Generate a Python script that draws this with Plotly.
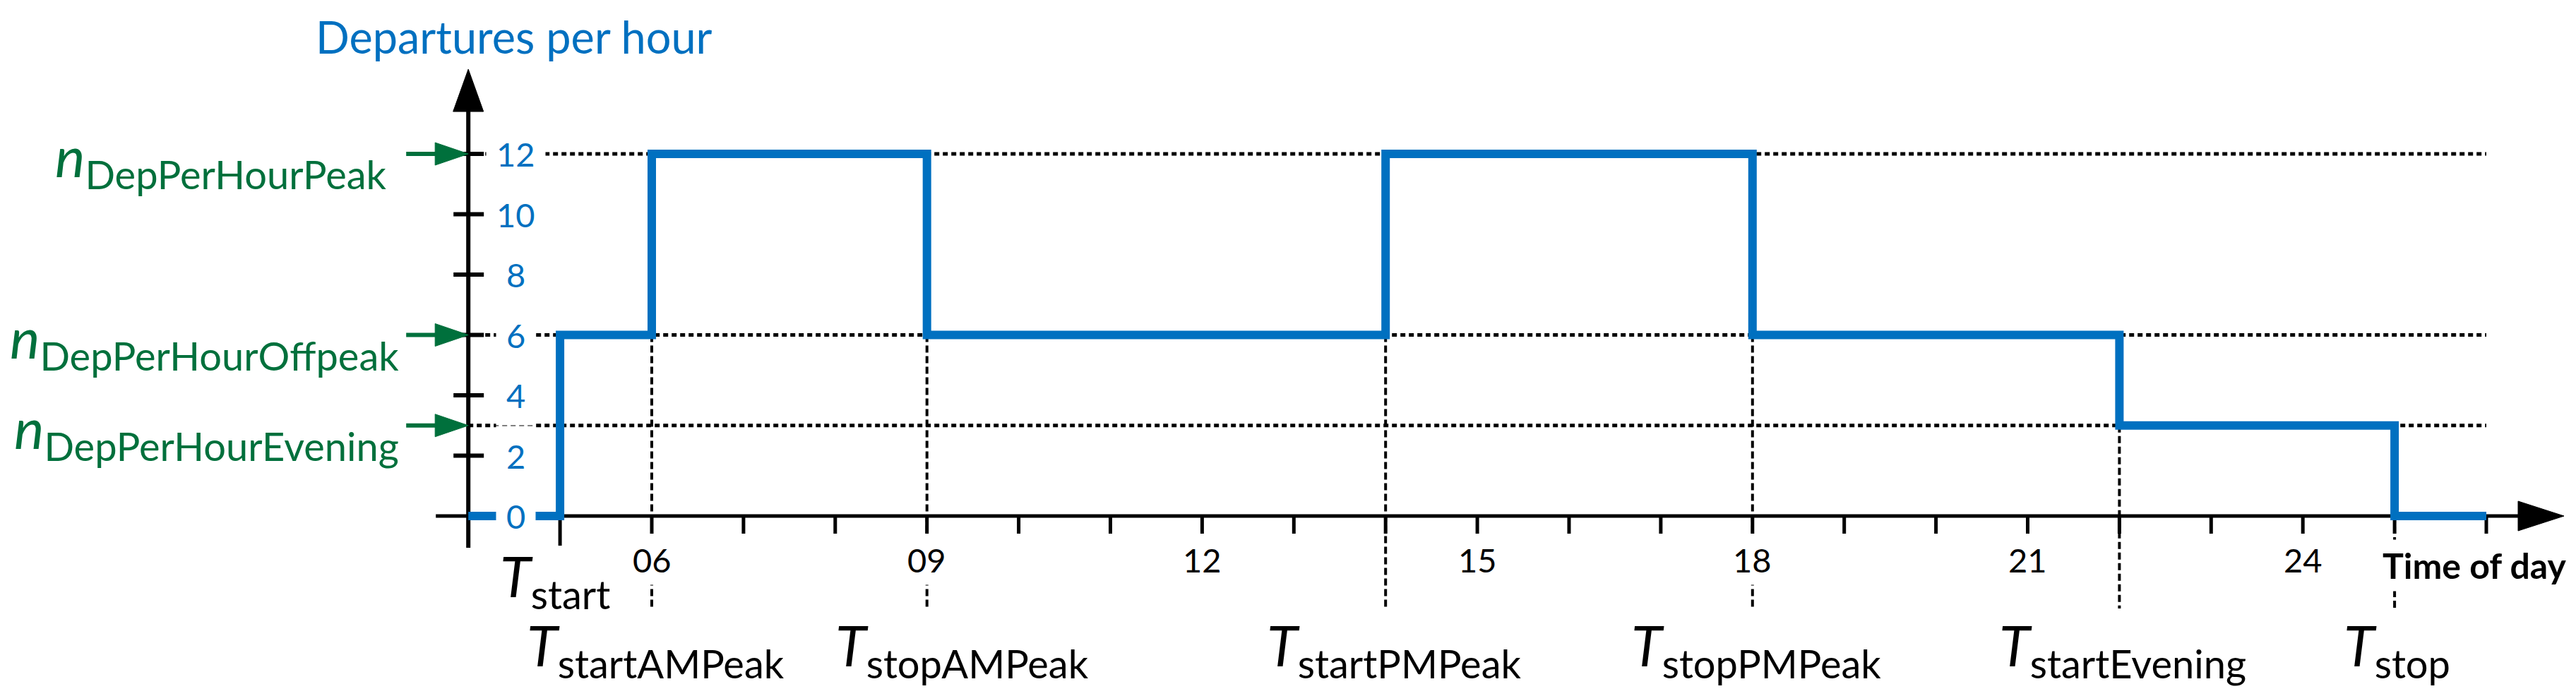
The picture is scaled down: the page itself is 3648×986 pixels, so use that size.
import plotly.graph_objects as go

# ---------------- data ----------------
hours = [4, 5, 6, 9, 14, 18, 22, 25, 26]
departures = [0, 6, 12, 6, 12, 6, 3, 0, 0]

level_names = ["DepPerHourPeak", "DepPerHourOffpeak", "DepPerHourEvening"]
level_values = [12, 6, 3]

marker_hours = [5, 6, 9, 14, 18, 22, 25]
marker_names = ["start", "startAMPeak", "stopAMPeak", "startPMPeak",
                "stopPMPeak", "startEvening", "stop"]

x_ticks = list(range(5, 27))
x_label_hours = [6, 9, 12, 15, 18, 21, 24]
x_labels = ["06", "09", "12", "15", "18", "21", "24"]
y_ticks = [0, 2, 4, 6, 8, 10, 12]
y_labels = ["0", "2", "4", "6", "8", "10", "12"]

title_text = "Departures per hour"
xaxis_text = "Time of day"

# ---------------- styling / geometry ----------------
W, H = 3648, 986
PX0, PXH = 135.6, 129.9      # pixel of hour 0, pixels per hour
PY0, PYV = 723.0, 42.75      # pixel of value 0, pixels per unit
BLUE = "#0070C0"
GREEN = "#00703C"
FONT = "Lato"


def dx(px):
    return px / PXH


def dy(px):
    return px / PYV


xr = [-PX0 / PXH, (W - PX0) / PXH]
yr = [(PY0 - H) / PYV, PY0 / PYV]
h_axis = hours[0]

fig = go.Figure()
fig.add_trace(go.Scatter(x=hours, y=departures, mode="lines",
                         line=dict(color=BLUE, width=12, shape="hv"),
                         hoverinfo="skip", showlegend=False))

shapes = []
# dotted horizontal guides
for v in level_values:
    shapes.append(dict(type="line", xref="x", yref="y", x0=h_axis, x1=hours[-1], y0=v, y1=v,
                       line=dict(color="black", width=5, dash="7px,5px"), layer="below"))
# dashed vertical markers
for h in marker_hours[1:]:
    i = hours.index(h)
    top = min(departures[i - 1], departures[i])
    shapes.append(dict(type="line", xref="x", yref="y", x0=h, x1=h, y0=top, y1=-dy(131),
                       line=dict(color="black", width=4, dash="10px,5px"), layer="below"))
# x axis
x_end = hours[-1]
shapes.append(dict(type="line", x0=h_axis - dx(46), x1=x_end + dx(47), y0=0, y1=0,
                   line=dict(color="black", width=5), layer="below"))
shapes.append(dict(type="path",
                   path=f"M {x_end + dx(45)},{dy(21)} L {x_end + dx(110)},0 L {x_end + dx(45)},{-dy(21)} Z",
                   fillcolor="black", line=dict(color="black", width=1), layer="below"))
# y axis
y_top = y_ticks[-1]
shapes.append(dict(type="line", x0=h_axis, x1=h_axis, y0=-dy(45), y1=y_top + dy(62),
                   line=dict(color="black", width=6), layer="below"))
shapes.append(dict(type="path",
                   path=f"M {h_axis - dx(21.5)},{y_top + dy(60)} L {h_axis},{y_top + dy(120)} L {h_axis + dx(21.5)},{y_top + dy(60)} Z",
                   fillcolor="black", line=dict(color="black", width=1), layer="below"))
# x ticks
for h in x_ticks:
    ln = 42 if h == marker_hours[0] else 25
    shapes.append(dict(type="line", x0=h, x1=h, y0=0, y1=-dy(ln),
                       line=dict(color="black", width=5), layer="below"))
# y ticks
for v in y_ticks[1:]:
    shapes.append(dict(type="line", x0=h_axis - dx(21), x1=h_axis + dx(22), y0=v, y1=v,
                       line=dict(color="black", width=6), layer="below"))
# green arrows
for v in level_values:
    shapes.append(dict(type="line", x0=h_axis - dx(88), x1=h_axis - dx(45), y0=v, y1=v,
                       line=dict(color=GREEN, width=6), layer="above"))
    shapes.append(dict(type="path",
                       path=f"M {h_axis - dx(47)},{v + dy(16)} L {h_axis},{v} L {h_axis - dx(47)},{v - dy(16)} Z",
                       fillcolor=GREEN, line=dict(color=GREEN, width=1), layer="above"))

ann = []
# y tick labels
for v, t in zip(y_ticks, y_labels):
    ann.append(dict(x=h_axis, y=v, xshift=67, text=t, showarrow=False,
                    font=dict(family=FONT, size=47, color=BLUE),
                    bgcolor="white", borderpad=14, xanchor="center", yanchor="middle"))
# x tick labels
for h, t in zip(x_label_hours, x_labels):
    ann.append(dict(x=h, y=0, yshift=-62, text=t, showarrow=False,
                    font=dict(family=FONT, size=47, color="black"),
                    bgcolor="white", borderpad=7, xanchor="center", yanchor="middle"))
# marker labels
x_offsets = [-7, 5, 50, 12, 5, 5, 3]
for k, (h, name) in enumerate(zip(marker_hours, marker_names)):
    ann.append(dict(x=h, y=0, xshift=x_offsets[k], yshift=(-90 if k == 0 else -188),
                    text=f"<i>T</i><sub>{name}</sub>", showarrow=False,
                    font=dict(family=FONT, size=80, color="black"),
                    xanchor="center", yanchor="middle"))
# level labels
n_xshift = [-113, -96, -96]
for k, (v, name) in enumerate(zip(level_values, level_names)):
    ann.append(dict(x=h_axis, y=v, xshift=n_xshift[k], yshift=-8,
                    text=f"<i>n</i><sub>{name}</sub>", showarrow=False,
                    font=dict(family=FONT, size=80, color=GREEN),
                    xanchor="right", yanchor="middle"))
# axis titles
ann.append(dict(x=25.87, y=0, yshift=-70, text=f"<b>{xaxis_text}</b>", showarrow=False,
                font=dict(family=FONT, size=50, color="black"), bgcolor="white", borderpad=6,
                xanchor="center", yanchor="middle"))
ann.append(dict(x=h_axis + dx(65), y=1 - 44.0 / H, yref="paper", text=title_text, showarrow=False,
                font=dict(family=FONT, size=63, color=BLUE), xanchor="center", yanchor="middle"))

fig.update_layout(
    width=W, height=H, autosize=False,
    margin=dict(l=0, r=0, t=0, b=0, pad=0),
    paper_bgcolor="white", plot_bgcolor="white",
    xaxis=dict(range=xr, visible=False, fixedrange=True),
    yaxis=dict(range=yr, visible=False, fixedrange=True),
    shapes=shapes, annotations=ann, showlegend=False,
)

fig.write_html("out.html")
